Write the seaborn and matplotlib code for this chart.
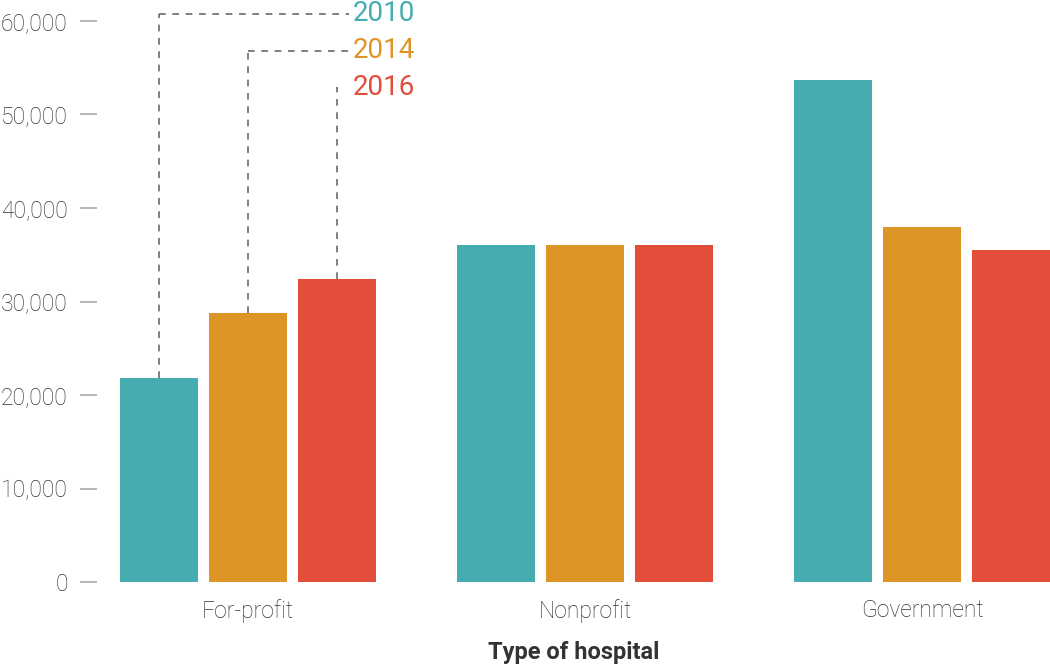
import matplotlib
matplotlib.use("Agg")
import matplotlib.pyplot as plt
import seaborn as sns
import pandas as pd
from matplotlib.ticker import FuncFormatter

# ---- data ----
categories = ["For-profit", "Nonprofit", "Government"]
years = ["2010", "2014", "2016"]
values_2010 = [21800, 36000, 53700]
values_2014 = [28800, 36000, 38000]
values_2016 = [32400, 36000, 35500]
yticks = [0, 10000, 20000, 30000, 40000, 50000, 60000]
colors = ["#45ADB0", "#DE9528", "#E24E3A"]
xlabel = "Type of hospital"

rows = []
for yr, vals in zip(years, [values_2010, values_2014, values_2016]):
    for c, v in zip(categories, vals):
        rows.append({"type": c, "year": yr, "value": v})
df = pd.DataFrame(rows)

sns.set_theme(style="white")
plt.rcParams["font.family"] = ["Roboto", "DejaVu Sans"]

fig = plt.figure(figsize=(10.5, 6.68), dpi=100)
ax = fig.add_axes([97 / 1050, 1 - 582 / 668, 1 - 97 / 1050, (582 - 21) / 668])

sns.barplot(data=df, x="type", y="value", hue="year", order=categories,
            hue_order=years, palette=colors, width=0.79, gap=0.12,
            edgecolor="none", linewidth=0, saturation=1, ax=ax, legend=False)

ax.set_ylim(0, 60000)
ax.set_xlim(-0.448, 2.38)
ax.set_yticks(yticks)
ax.yaxis.set_major_formatter(FuncFormatter(lambda v, p: f"{int(v):,}"))
for s in ax.spines.values():
    s.set_visible(False)

ax.tick_params(axis="y", length=12, width=1.3, color="#B0B0B0", pad=9,
               labelsize=16.5, labelcolor="#333333", left=True, direction="out")
ax.tick_params(axis="x", length=0, pad=12, labelsize=16.5, labelcolor="#333333")
for lab in ax.get_yticklabels() + ax.get_xticklabels():
    lab.set_fontweight("light")
ax.set_ylabel("")
ax.set_xlabel(xlabel, fontsize=17, fontweight="bold", color="#333333", labelpad=13)

# ---- annotation leaders from For-profit bars to year labels ----
label_y = [60800, 56800, 52900]
text_x = 0.31
for i, yr in enumerate(years):
    bar = ax.containers[i][0]
    cx = bar.get_x() + bar.get_width() / 2
    top = bar.get_height()
    ax.plot([cx, cx], [top, label_y[i]], ls=(0, (4, 4)), color="#6A6A6A",
            lw=1.2, clip_on=False, zorder=3)
    if text_x - cx > 0.06:
        ax.plot([cx, text_x - 0.01], [label_y[i], label_y[i]], ls=(0, (4, 4)),
                color="#6A6A6A", lw=1.2, clip_on=False, zorder=3)
    ax.text(text_x, label_y[i], yr, color=colors[i], fontsize=20,
            ha="left", va="center", clip_on=False)

fig.savefig("out.png", dpi=100)
